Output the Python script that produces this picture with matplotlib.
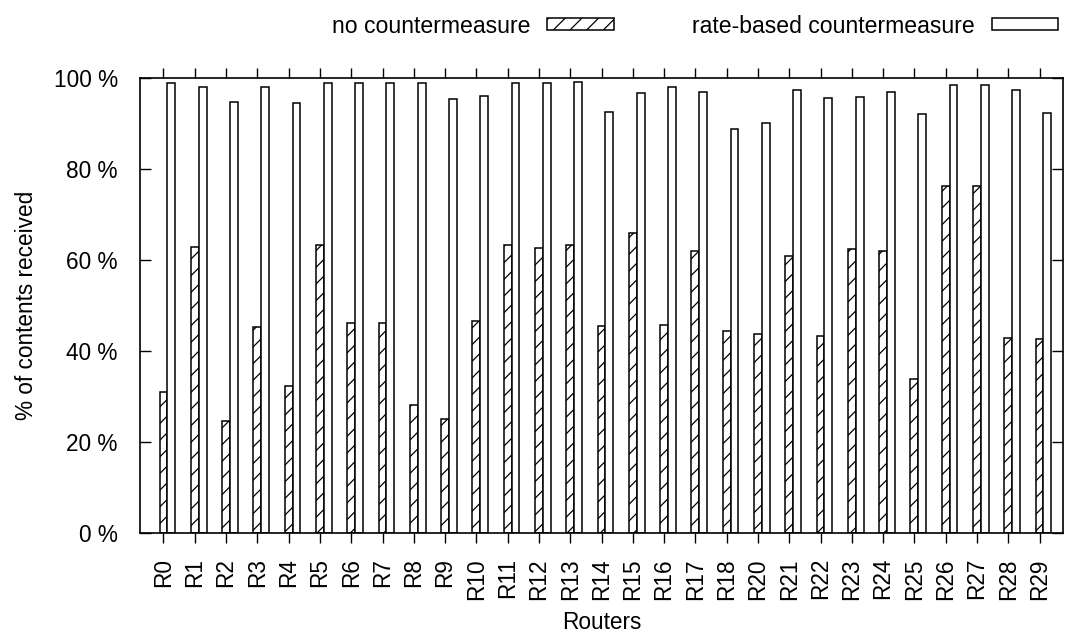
import numpy as np
import matplotlib
matplotlib.use("Agg")
import matplotlib.pyplot as plt

routers = ["R0", "R1", "R2", "R3", "R4", "R5", "R6", "R7", "R8", "R9",
           "R10", "R11", "R12", "R13", "R14", "R15", "R16", "R17", "R18", "R20",
           "R21", "R22", "R23", "R24", "R25", "R26", "R27", "R28", "R29"]

no_counter = [31.0, 62.9, 24.6, 45.3, 32.2, 63.4, 46.1, 46.1, 28.1, 25.1,
              46.6, 63.4, 62.6, 63.2, 45.5, 65.9, 45.7, 62.0, 44.5, 43.7,
              60.9, 43.2, 62.4, 62.0, 33.8, 76.3, 76.3, 42.9, 42.6]

rate_based = [99.0, 98.1, 94.8, 98.1, 94.4, 99.0, 99.0, 99.0, 99.0, 95.4,
              96.0, 99.0, 99.0, 99.1, 92.5, 96.7, 98.1, 96.9, 88.8, 90.0,
              97.4, 95.6, 95.9, 96.9, 92.0, 98.5, 98.5, 97.4, 92.2]

plt.rcParams['font.family'] = ['Liberation Sans', 'DejaVu Sans']
plt.rcParams['hatch.linewidth'] = 0.9

fs = 16.3
fig = plt.figure(figsize=(10.73, 6.35), dpi=100)
ax = fig.add_axes([0.1305, 0.1606, 0.9907 - 0.1305, 0.8772 - 0.1606])

x = np.arange(len(routers))
w = 0.25
ax.bar(x, no_counter, width=w, color='white', edgecolor='black',
       hatch='//', linewidth=1.1, label='no countermeasure')
ax.bar(x + w, rate_based, width=w, color='white', edgecolor='black',
       linewidth=1.1, label='rate-based countermeasure')

ax.set_xlim(-0.75, len(routers) - 0.25)
ax.set_ylim(0, 100)
ax.set_yticks(np.arange(0, 101, 20))
ax.set_yticklabels([f"{v} %" for v in range(0, 101, 20)])
ax.set_xticks(x)
ax.set_xticklabels(routers, rotation=90)

ax.tick_params(axis='y', direction='in', length=8, width=1.0, labelsize=fs,
               right=True, pad=16)
ax.tick_params(axis='x', direction='out', length=7, width=1.0, labelsize=fs,
               top=True, pad=11)
for s in ax.spines.values():
    s.set_linewidth(1.2)

ax.set_xlabel("Routers", fontsize=fs, labelpad=8)
ax.set_ylabel("% of contents received", fontsize=fs, labelpad=11)

# legend above the plot: text first, sample box after it
fig.legend(loc='center right', bbox_to_anchor=(0.997, 0.959), ncol=2,
           frameon=False, markerfirst=False, fontsize=16.6, borderpad=0,
           handlelength=2.88, handleheight=0.4, columnspacing=3.4,
           handletextpad=0.74)

fig.savefig("out.png", dpi=100)
